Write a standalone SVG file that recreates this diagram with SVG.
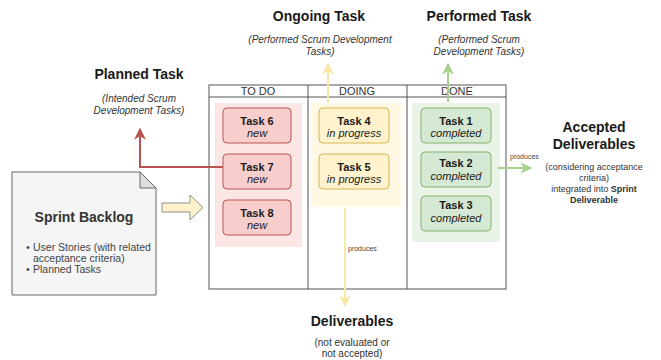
<svg xmlns="http://www.w3.org/2000/svg" width="661" height="360" viewBox="0 0 661 360">
<style>
text{font-family:"Liberation Sans",Arial,sans-serif;fill:#1a1a1a}
.h{font-size:14px;font-weight:bold;text-anchor:middle}
.s{font-size:10px;font-style:italic;text-anchor:middle;fill:#333}
.t{font-size:11px;font-weight:bold;text-anchor:middle}
.st{font-size:11px;font-style:italic;text-anchor:middle}
.col{font-size:11px;text-anchor:middle;fill:#333}
.lbl{font-size:7px;fill:#444}
.r{fill:#f8cecc;stroke:#b85450;stroke-width:1}
.y{fill:#fff2cc;stroke:#d6b656;stroke-width:1}
.g{fill:#d5e8d4;stroke:#82b366;stroke-width:1}
.board{fill:none;stroke:#555;stroke-width:1}
</style>
<defs>
<marker id="mr" viewBox="0 0 10 10" refX="9" refY="5" markerWidth="6" markerHeight="6" orient="auto"><path d="M0,0 L10,5 L0,10 L3,5 z" fill="#b85450"/></marker>
<marker id="my" viewBox="0 0 10 10" refX="9" refY="5" markerWidth="6" markerHeight="6" orient="auto"><path d="M0,0 L10,5 L0,10 L3,5 z" fill="#f7e9a8"/></marker>
<marker id="mg" viewBox="0 0 10 10" refX="9" refY="5" markerWidth="6" markerHeight="6" orient="auto"><path d="M0,0 L10,5 L0,10 L3,5 z" fill="#a9d18e"/></marker>
</defs>
<rect width="661" height="360" fill="#fff"/>

<g id="board">
<rect x="215" y="103" width="87" height="144" fill="#fce6e5"/>
<rect x="311" y="103" width="90" height="104" fill="#fff8e3"/>
<rect x="412" y="103" width="88" height="139" fill="#eaf3e8"/>
<rect class="board" x="209" y="85" width="297" height="204"/>
<line class="board" x1="209" y1="97" x2="506" y2="97"/>
<line class="board" x1="308" y1="85" x2="308" y2="289"/>
<line class="board" x1="407" y1="85" x2="407" y2="289"/>
<text class="col" x="258" y="95">TO DO</text>
<text class="col" x="357" y="95">DOING</text>
<text class="col" x="457" y="95">DONE</text>
</g>

<g id="task6"><rect class="r" x="223" y="108" width="68" height="35" rx="4"/><text class="t" x="257" y="125">Task 6</text><text class="st" x="257" y="137">new</text></g>
<g id="task7"><rect class="r" x="223" y="154" width="68" height="35" rx="4"/><text class="t" x="257" y="171">Task 7</text><text class="st" x="257" y="183">new</text></g>
<g id="task8"><rect class="r" x="223" y="200" width="68" height="35" rx="4"/><text class="t" x="257" y="217">Task 8</text><text class="st" x="257" y="229">new</text></g>
<g id="task4"><rect class="y" x="319" y="108" width="70" height="35" rx="4"/><text class="t" x="354" y="125">Task 4</text><text class="st" x="354" y="137">in progress</text></g>
<g id="task5"><rect class="y" x="319" y="154" width="70" height="35" rx="4"/><text class="t" x="354" y="171">Task 5</text><text class="st" x="354" y="183">in progress</text></g>
<g id="task1"><rect class="g" x="421" y="108" width="70" height="35" rx="4"/><text class="t" x="456" y="125">Task 1</text><text class="st" x="456" y="137">completed</text></g>
<g id="task2"><rect class="g" x="421" y="152" width="70" height="35" rx="4"/><text class="t" x="456" y="167">Task 2</text><text class="st" x="456" y="180">completed</text></g>
<g id="task3"><rect class="g" x="421" y="196" width="70" height="35" rx="4"/><text class="t" x="456" y="209">Task 3</text><text class="st" x="456" y="222">completed</text></g>

<g id="backlog">
<path d="M12,172 H140 L156,188 V295 H12 Z" fill="#f5f5f5" stroke="#666"/>
<path d="M140,172 V188 H156 Z" fill="#ddd" stroke="#666"/>
<text x="84" y="222" style="font-size:14px;font-weight:bold;text-anchor:middle;fill:#333">Sprint Backlog</text>
<text style="font-size:10.5px;fill:#444"><tspan x="26" y="251">•</tspan><tspan x="33" y="251">User Stories (with related</tspan><tspan x="33" y="262">acceptance criteria)</tspan><tspan x="26" y="273">•</tspan><tspan x="33" y="273">Planned Tasks</tspan></text>
</g>

<g id="planned">
<text class="h" x="139" y="79">Planned Task</text>
<text class="s" x="139" y="102">(Intended Scrum</text>
<text class="s" x="139" y="114">Development Tasks)</text>
</g>
<g id="ongoing">
<text class="h" x="319" y="21">Ongoing Task</text>
<text class="s" x="320" y="43">(Performed Scrum Development</text>
<text class="s" x="320" y="55">Tasks)</text>
</g>
<g id="performed">
<text class="h" x="479" y="21">Performed Task</text>
<text class="s" x="479" y="43">(Performed Scrum</text>
<text class="s" x="479" y="55">Development Tasks)</text>
</g>
<g id="deliverables">
<text class="h" x="352" y="326">Deliverables</text>
<text x="352" y="346" style="font-size:10px;text-anchor:middle;fill:#333">(not evaluated or</text>
<text x="352" y="357" style="font-size:10px;text-anchor:middle;fill:#333">not accepted)</text>
</g>
<g id="accepted">
<text class="h" x="594" y="132">Accepted</text>
<text class="h" x="594" y="149">Deliverables</text>
<text x="594" y="170" style="font-size:9px;text-anchor:middle;fill:#333">(considering acceptance</text>
<text x="594" y="181" style="font-size:9px;text-anchor:middle;fill:#333">criteria)</text>
<text x="594" y="192" style="font-size:9px;text-anchor:middle;fill:#333">integrated into <tspan font-weight="bold">Sprint</tspan></text>
<text x="594" y="203" style="font-size:9px;text-anchor:middle;font-weight:bold;fill:#333">Deliverable</text>
</g>

<g id="connectors">
<path d="M162,203 H190 V195 L203,207.5 L190,220 V212 H162 Z" fill="#fff2cc" stroke="#8f8f8f"/>
<path d="M223,167 H140 V129" fill="none" stroke="#b85450" stroke-width="2" marker-end="url(#mr)"/>
<path d="M328,103 V64" fill="none" stroke="#f7e9a8" stroke-width="2" marker-end="url(#my)"/>
<path d="M448,102 V64" fill="none" stroke="#a9d18e" stroke-width="2" marker-end="url(#mg)"/>
<path d="M345,208 V306" fill="none" stroke="#f7e9a8" stroke-width="2" marker-end="url(#my)"/>
<text class="lbl" x="348" y="251">produces</text>
<path d="M498,168 H531" fill="none" stroke="#a9d18e" stroke-width="2" marker-end="url(#mg)"/>
<text class="lbl" x="510" y="159">produces</text>
</g>
</svg>
